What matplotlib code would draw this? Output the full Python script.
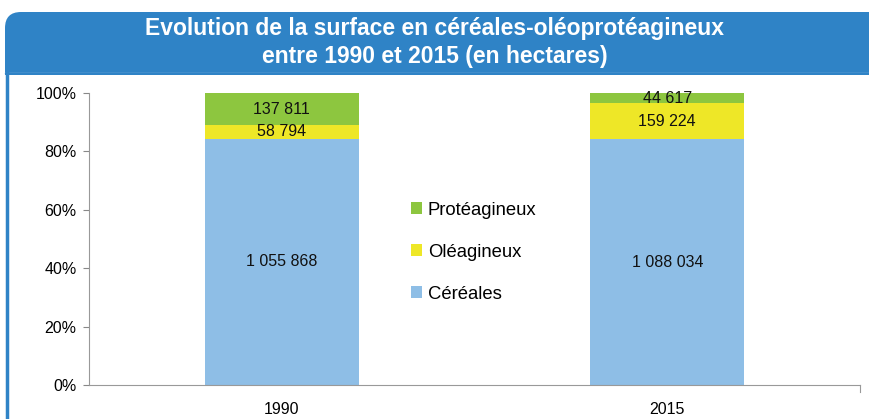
import matplotlib.pyplot as plt
from matplotlib.patches import FancyBboxPatch, Rectangle
from matplotlib.lines import Line2D
from matplotlib.transforms import IdentityTransform

plt.rcParams['font.family'] = ['Liberation Sans', 'DejaVu Sans']

years = ["1990", "2015"]
cereales = [1055868, 1088034]
oleagineux = [58794, 159224]
proteagineux = [137811, 44617]
labels = ["Céréales", "Oléagineux", "Protéagineux"]
colors = ["#8EBEE6", "#EEE727", "#8DC63F"]

W, H = 870, 419
fig = plt.figure(figsize=(W / 100, H / 100), dpi=100)
px = IdentityTransform()  # display pixels, origin bottom-left
blue = "#2F83C6"

# title banner: rounded top corners, square bottom
fig.patches.append(FancyBboxPatch((5, H - 110), 880, 98,
                                  boxstyle="round,pad=0,rounding_size=16",
                                  transform=px, facecolor=blue, edgecolor="none", zorder=-3))
fig.patches.append(Rectangle((0, 0), W, H - 75, transform=px,
                             facecolor="white", edgecolor="none", zorder=-2))
fig.patches.append(Rectangle((5, H - 75), W, 2, transform=px,
                             facecolor=blue, edgecolor="none", zorder=-1))
fig.lines.append(Line2D([5, W], [H - 72.5] * 2, transform=px, color="#8DBBE3", lw=1, zorder=-1))
fig.lines.append(Line2D([6.5] * 2, [0, H - 72], transform=px, color=blue, lw=2.5, zorder=-1))

fig.text(0.5, (H - 28) / H, "Evolution de la surface en céréales-oléoprotéagineux",
         ha="center", va="center", color="white", fontsize=16.5, fontweight="bold")
fig.text(0.5, (H - 56) / H, "entre 1990 et 2015 (en hectares)",
         ha="center", va="center", color="white", fontsize=16.5, fontweight="bold")

ax = fig.add_axes([89 / W, (H - 385) / H, 771 / W, 292 / H])
ax.set_zorder(2)
ax.patch.set_alpha(0)

x = [0, 1]
totals = [c + o + p for c, o, p in zip(cereales, oleagineux, proteagineux)]
series = [cereales, oleagineux, proteagineux]
bottoms = [0, 0]
bars = []
for vals, lab, col in zip(series, labels, colors):
    pct = [v / t * 100 for v, t in zip(vals, totals)]
    b = ax.bar(x, pct, 0.4, bottom=bottoms, color=col, label=lab)
    bars.append(b)
    for xi, p, bt, v in zip(x, pct, bottoms, vals):
        txt = f"{v:,}".replace(",", " ")
        ax.text(xi, bt + p / 2, txt, ha="center", va="center", fontsize=11.5, color="#111111")
    bottoms = [bt + p for bt, p in zip(bottoms, pct)]

ax.set_xlim(-0.5, 1.5)
ax.set_ylim(0, 100)
ax.set_yticks(range(0, 101, 20))
ax.set_yticklabels([f"{v}%" for v in range(0, 101, 20)])
ax.set_xticks(x)
ax.set_xticklabels(years)
ax.tick_params(axis="y", length=4, color="#888888", labelsize=11.5, pad=5)
ax.tick_params(axis="x", length=0, labelsize=11.5, pad=12)
for s in ["top", "right"]:
    ax.spines[s].set_visible(False)
for s in ["left", "bottom"]:
    ax.spines[s].set_color("#999999")
ax.plot([1.5, 1.5], [0, -2.5], color="#999999", lw=0.8, clip_on=False)

handles = [bars[2], bars[1], bars[0]]
ax.legend(handles, [labels[2], labels[1], labels[0]], loc="center",
          bbox_to_anchor=(0.499, 0.455), frameon=False, fontsize=13.3,
          handlelength=0.6, handleheight=0.6, labelspacing=1.35, handletextpad=0.3)

fig.savefig("out.png", dpi=100)
